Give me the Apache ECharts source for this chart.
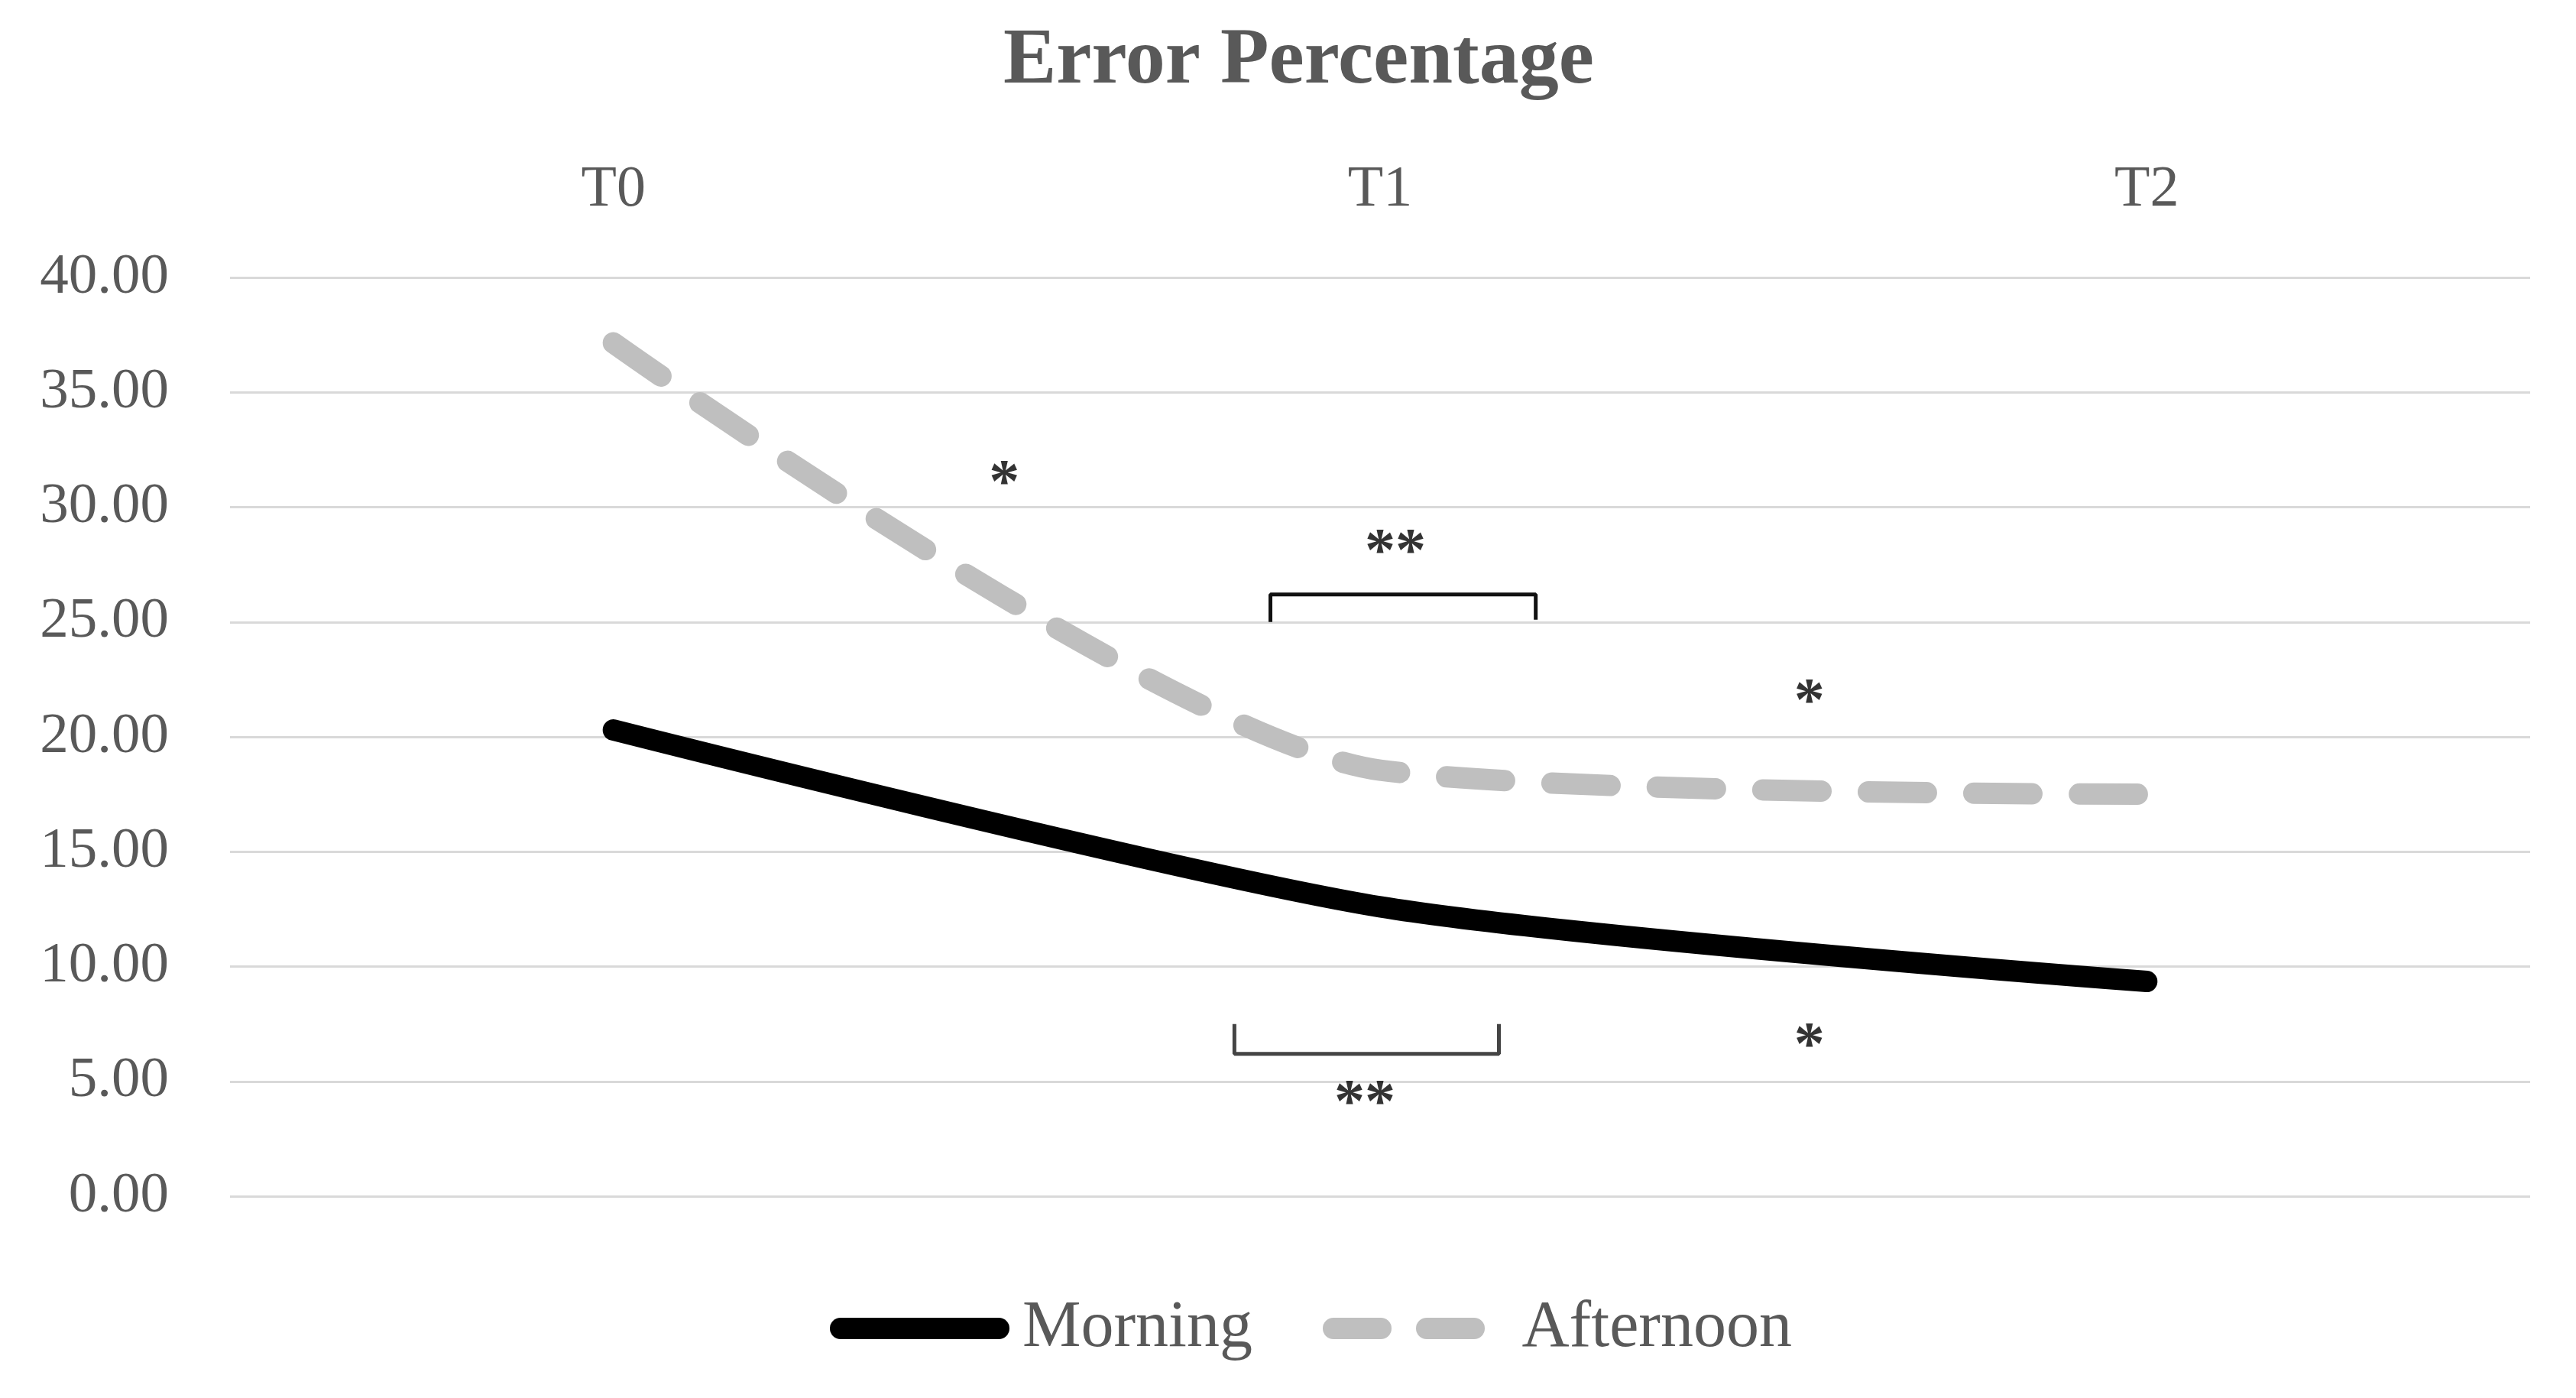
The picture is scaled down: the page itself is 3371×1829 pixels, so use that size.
<!DOCTYPE html>
<html><head><meta charset="utf-8">
<script src="https://cdn.jsdelivr.net/npm/echarts@6/dist/echarts.min.js"></script>
<style>html,body{margin:0;padding:0;background:#fff}#c{width:3371px;height:1829px}</style>
</head><body><div id="c"></div>
<script>
// ---- data ----
const categories = ['T0', 'T1', 'T2'];
const morning = [20.3, 12.6, 9.35];
const afternoon = [37.15, 18.55, 17.5];
const yMin = 0, yMax = 40, yInterval = 5;
// significance marks, in data coordinates (x: 0=T0, 1=T1, 2=T2)
const starText = ['*', '**', '*', '**', '*'];
const starX = [0.51, 1.02, 1.56, 0.98, 1.56];
const starY = [31.4, 28.4, 21.9, 4.4, 6.9];
const upperBracket = [[0.857, 25.0], [0.857, 26.2], [1.203, 26.2], [1.203, 25.1]];
const lowerBracket = [[0.81, 7.5], [0.81, 6.2], [1.155, 6.2], [1.155, 7.5]];

const SERIF = '"Liberation Serif", "DejaVu Serif", serif';
// legend icons: a solid rounded bar, and two rounded dashes
const ICON_SOLID = 'path://M14,0H221A14,14 0 0 1 221,28H14A14,14 0 0 1 14,0Z';
const ICON_DASH = 'path://M14,0H76A14,14 0 0 1 76,28H14A14,14 0 0 1 14,0ZM136,0H198A14,14 0 0 1 198,28H136A14,14 0 0 1 136,0Z';

const chart = echarts.init(document.getElementById('c'), null, {renderer: 'canvas'});
chart.setOption({
  animation: false,
  backgroundColor: '#ffffff',
  title: {
    text: 'Error Percentage', left: 1308, top: 24,
    textStyle: {fontFamily: SERIF, fontWeight: 'bold', fontSize: 104, color: '#595959'}
  },
  grid: {left: 301, right: 60, top: 363, bottom: 264},
  legend: {
    data: [
      {name: 'Morning', icon: ICON_SOLID, textStyle: {padding: [0, 0, 0, 12]}},
      {name: 'Afternoon', icon: ICON_DASH, textStyle: {padding: [0, 0, 0, 32]}}
    ],
    top: 1690, left: 1081, symbolKeepAspect: true,
    itemWidth: 235, itemHeight: 28, itemGap: 92,
    textStyle: {fontFamily: SERIF, fontSize: 86, color: '#595959'}
  },
  xAxis: [{
    type: 'category', data: categories, position: 'top',
    axisLine: {show: false}, axisTick: {show: false},
    axisLabel: {fontFamily: SERIF, fontSize: 76, color: '#595959', margin: 76}
  }, {
    type: 'value', min: -0.5, max: 2.5, show: false, position: 'bottom'
  }],
  yAxis: {
    type: 'value', min: yMin, max: yMax, interval: yInterval,
    axisLine: {show: false}, axisTick: {show: false},
    splitLine: {lineStyle: {color: '#d9d9d9', width: 3}},
    axisLabel: {fontFamily: SERIF, fontSize: 75, color: '#595959', margin: 80,
      formatter: v => v.toFixed(2)}
  },
  series: [{
    name: 'Morning', type: 'line', data: morning, symbol: 'none', smooth: 0.25,
    color: '#000000', itemStyle: {color: '#000000'},
    lineStyle: {color: '#000000', width: 28, cap: 'round', join: 'round'}
  }, {
    name: 'Afternoon', type: 'line', data: afternoon, symbol: 'none', smooth: 0.25,
    color: '#bfbfbf', itemStyle: {color: '#bfbfbf'},
    lineStyle: {color: '#bfbfbf', width: 28, type: [76, 62], cap: 'round', join: 'round'}
  }, {
    name: 'marks', type: 'scatter', xAxisIndex: 1, silent: true,
    data: starText.map((t, i) => [starX[i], starY[i], t]),
    symbolSize: 1, itemStyle: {color: 'rgba(0,0,0,0)'},
    label: {show: true, position: 'inside', formatter: p => p.value[2],
      fontFamily: SERIF, fontWeight: 'bold', fontSize: 80, color: '#000000', offset: [0, 14]}
  }, {
    name: 'b1', type: 'line', xAxisIndex: 1, data: upperBracket, symbol: 'none', silent: true,
    lineStyle: {color: '#111111', width: 5}
  }, {
    name: 'b2', type: 'line', xAxisIndex: 1, data: lowerBracket, symbol: 'none', silent: true,
    lineStyle: {color: '#444444', width: 5}
  }]
});
</script>
</body></html>
